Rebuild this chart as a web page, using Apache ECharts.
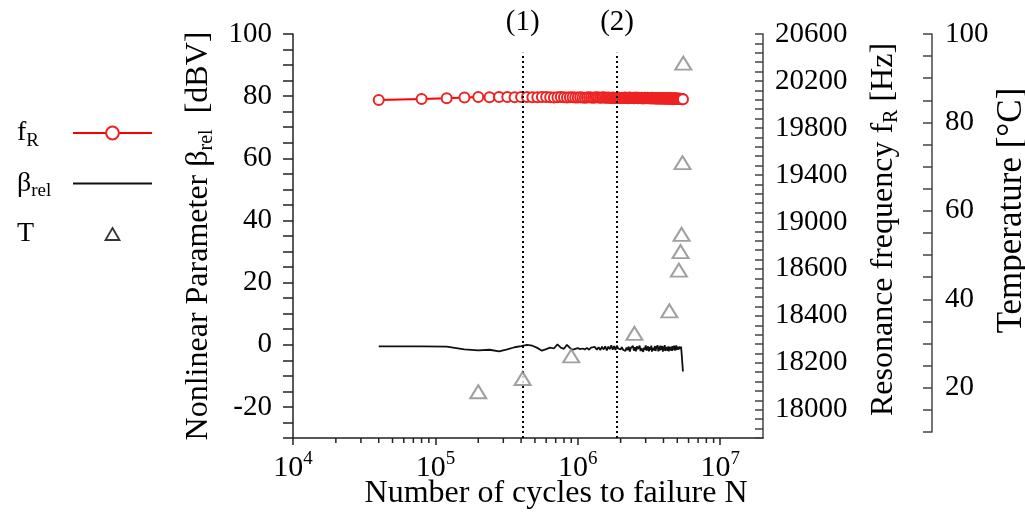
<!DOCTYPE html>
<html>
<head>
<meta charset="utf-8">
<script src="https://cdn.jsdelivr.net/npm/echarts@6/dist/echarts.min.js"></script>
<style>html,body{margin:0;padding:0;background:#fff}#c{width:1025px;height:512px}</style>
</head>
<body>
<div id="c"></div>
<script>
// Number of cycles (in thousands) at which fR and beta_rel were recorded
const cyclesK = [40,80,120,160,200,240,280,320,360,400,440,480,520,560,600,640,680,720,760,800,840,880,920,960,1000,1040,1080,1120,1160,1200,1240,1280,1320,1360,1400,1440,1480,1520,1560,1600,1640,1680,1720,1760,1800,1840,1880,1920,1960,2000,2040,2080,2120,2160,2200,2240,2280,2320,2360,2400,2440,2480,2520,2560,2600,2640,2680,2720,2760,2800,2840,2880,2920,2960,3000,3040,3080,3120,3160,3200,3240,3280,3320,3360,3400,3440,3480,3520,3560,3600,3640,3680,3720,3760,3800,3840,3880,3920,3960,4000,4040,4080,4120,4160,4200,4240,4280,4320,4360,4400,4440,4480,4520,4560,4600,4640,4680,4720,4760,4800,4840,4880,4920,4960,5000,5040,5080,5120,5160,5200,5240,5280,5320,5360,5400,5440,5480];
// Resonance frequency fR [Hz]
const freqHz = [20038,20047,20052,20060,20064,20062,20064,20063,20062,20064,
20063,20061,20062,20064,20063,20061,20060,20062,20063,20061,
20060,20062,20061,20059,20060,20062,20060,20058,20060,20061,
20059,20058,20060,20062,20059,20057,20059,20061,20058,20057,
20060,20058,20056,20059,20057,20055,20058,20060,20056,20055,
20058,20054,20057,20060,20055,20053,20057,20059,20054,20056,
20058,20053,20055,20059,20056,20052,20057,20055,20053,20058,
20054,20051,20056,20058,20053,20055,20057,20052,20054,20056,
20051,20055,20057,20053,20050,20054,20056,20052,20049,20055,
20053,20050,20054,20056,20051,20049,20053,20055,20050,20052,
20054,20049,20051,20053,20050,20048,20052,20054,20049,20051,
20053,20048,20050,20052,20049,20047,20051,20053,20048,20050,
20052,20047,20049,20051,20048,20046,20050,20049,20047,20048,
20046,20048,20047,20045,20047,20046,20044];
// Nonlinear parameter beta_rel [dBV]
const betaRel = [-0.5,-0.5,-0.6,-1.5,-1.8,-1.6,-2.1,-1.5,-0.8,-0.4,
0.0,-0.3,-1.0,-1.9,-1.4,-0.9,-1.2,0.1,-0.9,-1.3,
0.0,-1.0,-1.6,-1.3,-1.1,
-1.4,-1.2,-1.5,-1.0,-1.6,-0.9,-1.5,-0.7,-1.6,-0.8,-1.7,-0.6,-1.5,-0.5,-1.8,-0.6,-1.4,-0.2,-1.6,-0.4,-1.7,-0.3,-1.2,-0.6,-1.5,
-0.8,-1.6,-1.1,-2.0,-0.9,-1.7,-0.6,-2.2,-1.0,-1.5,
-0.4,-1.9,-0.8,-2.1,-0.5,-1.4,-1.8,-0.3,-2.0,-1.1,
-0.6,-2.3,-0.9,-1.6,-0.2,-1.9,-1.2,-0.5,-2.1,-0.8,
-1.7,-0.3,-2.2,-1.0,-0.6,-1.8,-0.4,-2.0,-0.9,-1.5,
-0.2,-2.1,-0.7,-1.9,-0.3,-1.6,-1.1,-0.4,-2.2,-0.6,
-1.8,-0.1,-2.0,-0.8,-1.4,-0.3,-1.9,-0.5,-2.1,-0.7,
-1.3,-0.2,-1.8,-0.6,-2.0,-0.4,-1.5,-0.9,-0.3,-1.9,
-0.5,-1.7,-0.2,-1.6,-0.7,-1.2,-0.3,-1.5,-0.6,-1.1,
-0.4,-1.3,-0.6,-1.0,-0.5,-1.0,-8.6];
// Temperature measurements
const tempCyclesK = [200,410,900,2500,4400,5130,5270,5360,5440,5510];
const tempC = [19.1,22.1,27.2,32.3,37.4,46.6,50.8,54.7,70.9,93.4];
// Marked stages
const markerCyclesK = [410,1890];
const markerLabels = ['(1)','(2)'];
// Axis tick labels
const xTickExponents = [4,5,6,7];
const xMinorTickCycles = [20000,30000,40000,50000,60000,70000,80000,90000,
200000,300000,400000,500000,600000,700000,800000,900000,
2000000,3000000,4000000,5000000,6000000,7000000,8000000,9000000];
const fRTickLabels = [18000,18200,18400,18600,19000,19400,19800,20200,20600];
const betaLabelStep = 20;
const tempLabelStep = 20;
const seriesNames = ['fR','beta','T'];
const legendLabels = {fR:'{a|f}{s|R}', beta:'{a|β}{s|rel}', T:'{a|T}'};

const FONT = 'Liberation Serif';
const lg = v => Math.log10(v);
// position of a frequency on the (non-uniform) labelled fR axis
function fRPos(hz){
  for (let i = 0; i < fRTickLabels.length - 1; i++) {
    const a = fRTickLabels[i], b = fRTickLabels[i+1];
    if (hz <= b || i === fRTickLabels.length - 2) return i + (hz - a) / (b - a);
  }
}
const xMin = 4, xMax = lg(2e7);

const chart = echarts.init(document.getElementById('c'), null, {renderer:'canvas'});
const axisTxt = {fontFamily: FONT, fontSize: 29, color: '#000'};
const subRich = {
  a: {fontFamily: FONT, fontSize: 32, color: '#000'},
  s: {fontFamily: FONT, fontSize: 20, color: '#000', padding: [16,0,0,0]}
};

chart.setOption({
  animation: false,
  backgroundColor: '#fff',
  grid: [
    {left: 293, right: 262, top: 34, bottom: 74, outerBoundsMode: 'none', containLabel: false},
    {left: 293, right: 262, top: 34, bottom: 80, outerBoundsMode: 'none', containLabel: false}
  ],
  legend: {
    orient: 'vertical', left: 12, top: 114, align: 'right',
    itemWidth: 79, itemHeight: 16, itemGap: 19, symbolKeepAspect: true,
    selectedMode: false,
    formatter: n => legendLabels[n],
    textStyle: {
      fontFamily: FONT, fontSize: 28, color: '#000', width: 51,
      rich: {
        a: {fontFamily: FONT, fontSize: 28, color: '#000', align: 'left', lineHeight: 34},
        s: {fontFamily: FONT, fontSize: 19, color: '#000', align: 'left', padding: [16,0,0,0]}
      }
    },
    data: [
      {name: seriesNames[0]},
      {name: seriesNames[1], icon: 'path://M0,0L100,0L100,2.6L0,2.6Z'},
      {name: seriesNames[2], icon: 'path://M0,8L0.01,8M39.5,2L46.5,14L32.5,14ZM78.99,8L79,8',
       itemStyle: {color: '#fff', borderColor: '#000', borderWidth: 1.8}}
    ]
  },
  xAxis: [
    {
      type: 'value', gridIndex: 0, min: xMin, max: xMax, interval: 1,
      axisLine: {onZero: false, lineStyle: {color: '#222', width: 1.5}},
      axisTick: {length: 7, lineStyle: {color: '#222', width: 1.5}},
      splitLine: {show: false},
      axisLabel: {
        margin: 12, showMaxLabel: false,
        formatter: v => {
          const r = Math.round(v);
          return (Math.abs(v - r) < 1e-9 && xTickExponents.includes(r)) ? '{b|10}{s|' + r + '}' : '';
        },
        rich: {
          b: {fontFamily: FONT, fontSize: 30, color: '#000'},
          s: {fontFamily: FONT, fontSize: 19, color: '#000', padding: [0,0,18,0]}
        }
      },
      name: 'Number of cycles to failure N', nameLocation: 'middle', nameGap: 40, nameMoveOverlap: false,
      nameTextStyle: {fontFamily: FONT, fontSize: 32, color: '#000', padding: [0,0,0,56]}
    },
    {type: 'value', gridIndex: 1, min: xMin, max: xMax, show: false}
  ],
  yAxis: [
    {
      type: 'value', gridIndex: 0, position: 'left', min: -30, max: 100, interval: 5,
      axisLine: {show: true, onZero: false, lineStyle: {color: '#222', width: 1.5}},
      axisTick: {show: true, length: 10, lineStyle: {color: '#222', width: 1.5}},
      splitLine: {show: false},
      axisLabel: Object.assign({margin: 21, formatter: v => (v % betaLabelStep === 0 ? String(v) : '')}, axisTxt),
      name: '{a|Nonlinear Parameter β}{s|rel}{a|  [dBV]}', nameLocation: 'middle', nameGap: 76, nameRotate: 90,
      nameTextStyle: {fontFamily: FONT, fontSize: 32, color: '#000', rich: subRich}
    },
    {
      type: 'value', gridIndex: 0, position: 'right', min: -0.6, max: 8, interval: 0.2,
      axisLine: {show: true, onZero: false, lineStyle: {color: '#444', width: 1.5}},
      axisTick: {show: true, inside: true, length: 8, lineStyle: {color: '#444', width: 1.5}},
      splitLine: {show: false},
      axisLabel: Object.assign({margin: 12, formatter: v => {
        const r = Math.round(v);
        return (Math.abs(v - r) < 1e-6 && r >= 0 && r < fRTickLabels.length) ? String(fRTickLabels[r]) : '';
      }}, axisTxt),
      name: '{a|Resonance frequency f}{s|R}{a| [Hz]}', nameLocation: 'middle', nameGap: 103, nameRotate: 90,
      nameTextStyle: {fontFamily: FONT, fontSize: 32, color: '#000', padding: [0,0,0,13], rich: subRich}
    },
    {
      type: 'value', gridIndex: 1, position: 'right', offset: 169, min: 10, max: 100, interval: 5,
      axisLine: {show: true, onZero: false, lineStyle: {color: '#444', width: 1.5}},
      axisTick: {show: true, inside: true, length: 9, lineStyle: {color: '#444', width: 1.5}},
      splitLine: {show: false},
      axisLabel: Object.assign({margin: 13, formatter: v => (v % tempLabelStep === 0 ? String(v) : '')}, axisTxt),
      name: 'Temperature [°C]', nameLocation: 'middle', nameGap: 62, nameRotate: 90,
      nameTextStyle: {fontFamily: FONT, fontSize: 35, color: '#000', padding: [0,0,0,45]}
    }
  ],
  series: [
    {
      name: seriesNames[1], type: 'line', xAxisIndex: 0, yAxisIndex: 0,
      symbol: 'none', z: 3,
      lineStyle: {color: '#111', width: 1.8},
      itemStyle: {color: '#111'},
      data: cyclesK.map((k, i) => [lg(k * 1000), betaRel[i]]),
      markLine: {
        silent: true, symbol: ['none','none'],
        lineStyle: {color: '#000', width: 2, type: [2,3]},
        label: {show: true, position: 'end', distance: 16, formatter: '{b}', fontFamily: FONT, fontSize: 29, color: '#000'},
        data: markerCyclesK.map((k, i) => [
          {name: markerLabels[i], coord: [lg(k * 1000), -30]},
          {coord: [lg(k * 1000), 94]}
        ])
      }
    },
    {
      name: seriesNames[0], type: 'line', xAxisIndex: 0, yAxisIndex: 1,
      symbol: 'emptyCircle', symbolSize: 10, showAllSymbol: true, z: 4,
      lineStyle: {color: '#ff0000', width: 2},
      itemStyle: {color: '#ee2222', borderWidth: 1.5},
      data: cyclesK.map((k, i) => [lg(k * 1000), fRPos(freqHz[i])])
    },
    {
      name: seriesNames[2], type: 'scatter', xAxisIndex: 1, yAxisIndex: 2,
      symbol: 'triangle', symbolSize: [16, 13], z: 5,
      itemStyle: {color: '#fff', borderColor: '#888', borderWidth: 2},
      data: tempCyclesK.map((k, i) => [lg(k * 1000), tempC[i]])
    },
    {
      name: 'minorTicks', type: 'custom', xAxisIndex: 0, yAxisIndex: 0, silent: true, z: 6,
      data: xMinorTickCycles.map(v => [lg(v), -30]),
      renderItem: (params, api) => {
        const p = api.coord([api.value(0), api.value(1)]);
        return {type: 'line', shape: {x1: p[0], y1: p[1], x2: p[0], y2: p[1] + 5},
                style: {stroke: '#222', lineWidth: 1.5}};
      }
    }
  ]
});
</script>
</body>
</html>
